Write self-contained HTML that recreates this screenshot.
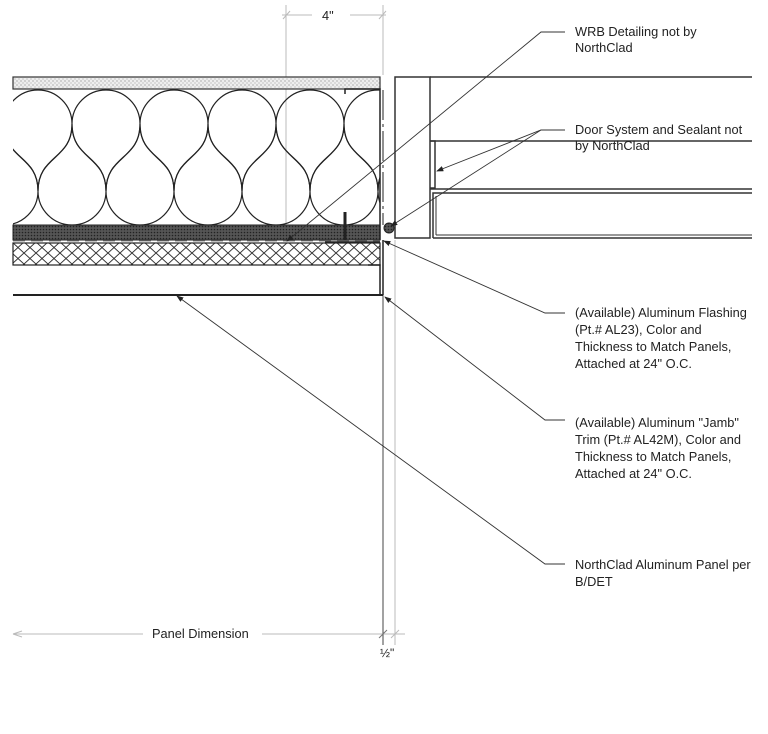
<!DOCTYPE html>
<html><head><style>
html,body{margin:0;padding:0;background:#fff;}
svg{display:block;}
text{font-family:"Liberation Sans",Arial,sans-serif;font-size:12.8px;fill:#222;}
</style></head><body>
<svg width="768" height="734" viewBox="0 0 768 734" xmlns="http://www.w3.org/2000/svg">
<defs>
<pattern id="stip" width="4" height="4" patternUnits="userSpaceOnUse"><rect width="4" height="4" fill="#eee"/><circle cx="1" cy="1" r="0.6" fill="#888"/><circle cx="3" cy="3" r="0.6" fill="#aaa"/></pattern>
<pattern id="dark" width="3" height="3" patternUnits="userSpaceOnUse"><rect width="3" height="3" fill="#555"/><circle cx="1.5" cy="1.5" r="0.8" fill="#222"/></pattern>
<pattern id="xh" width="12" height="11" patternUnits="userSpaceOnUse"><path d="M0,0 L12,11 M12,0 L0,11" stroke="#333" stroke-width="1"/></pattern>
<clipPath id="ins"><rect x="13" y="89" width="367" height="136"/></clipPath>
<marker id="ar" markerWidth="8" markerHeight="6" refX="7" refY="3" orient="auto"><path d="M0,0 L8,3 L0,6 z" fill="#222"/></marker>
</defs>

<g stroke="#bbb" stroke-width="1" fill="none">
<line x1="286" y1="5" x2="286" y2="240"/>
<line x1="383" y1="5" x2="383" y2="75"/>
<line x1="282" y1="15" x2="312" y2="15"/><line x1="350" y1="15" x2="386" y2="15"/>
<line x1="283" y1="19" x2="290" y2="11"/><line x1="379" y1="19" x2="386" y2="11"/>
<line x1="13" y1="634" x2="143" y2="634"/><line x1="262" y1="634" x2="405" y2="634"/>
<line x1="13" y1="634" x2="22" y2="631"/><line x1="13" y1="634" x2="22" y2="637"/>
<line x1="395" y1="240" x2="395" y2="645"/>
<line x1="391" y1="638" x2="399" y2="630"/>
</g>
<line x1="383" y1="295" x2="383" y2="645" stroke="#444" stroke-width="1"/>
<line x1="379" y1="638" x2="387" y2="630" stroke="#777"/>
<text x="322" y="20">4"</text>
<text x="152" y="638">Panel Dimension</text>
<text x="380" y="657" style="font-size:12px">½"</text>

<rect x="13" y="77" width="367" height="12" fill="url(#stip)" stroke="#333" stroke-width="1.2"/>
<g clip-path="url(#ins)" stroke="#222" stroke-width="1.2" fill="none">
<path d="M-30,191 C-30,155 -64,160 -64,124 A34 34 0 0 1 4,124 C4,160 -30,155 -30,191 M38,191 C38,155 4,160 4,124 A34 34 0 0 1 72,124 C72,160 38,155 38,191 M106,191 C106,155 72,160 72,124 A34 34 0 0 1 140,124 C140,160 106,155 106,191 M174,191 C174,155 140,160 140,124 A34 34 0 0 1 208,124 C208,160 174,155 174,191 M242,191 C242,155 208,160 208,124 A34 34 0 0 1 276,124 C276,160 242,155 242,191 M310,191 C310,155 276,160 276,124 A34 34 0 0 1 344,124 C344,160 310,155 310,191 M378,191 C378,155 344,160 344,124 A34 34 0 0 1 412,124 C412,160 378,155 378,191"/>
<path d="M4,124 C4,160 -30,155 -30,191 A34 34 0 0 0 38,191 C38,155 4,160 4,124 M72,124 C72,160 38,155 38,191 A34 34 0 0 0 106,191 C106,155 72,160 72,124 M140,124 C140,160 106,155 106,191 A34 34 0 0 0 174,191 C174,155 140,160 140,124 M208,124 C208,160 174,155 174,191 A34 34 0 0 0 242,191 C242,155 208,160 208,124 M276,124 C276,160 242,155 242,191 A34 34 0 0 0 310,191 C310,155 276,160 276,124 M344,124 C344,160 310,155 310,191 A34 34 0 0 0 378,191 C378,155 344,160 344,124 M412,124 C412,160 378,155 378,191 A34 34 0 0 0 446,191"/>
</g>
<rect x="13" y="225" width="367" height="15" fill="url(#dark)" stroke="#222" stroke-width="1"/>
<line x1="13" y1="241" x2="380" y2="241" stroke="#888" stroke-width="1" stroke-dasharray="12,6"/>
<rect x="13" y="243" width="367" height="22" fill="url(#xh)" stroke="#222" stroke-width="1.2"/>
<line x1="13" y1="295" x2="383" y2="295" stroke="#222" stroke-width="2"/>
<g stroke="#222" fill="none">
<path d="M345,94 V89 H380 V240" stroke-width="1.5"/>
<path d="M368,265 H380 V295" stroke-width="1.5"/>
<path d="M383,240 V295" stroke-width="1.5"/>
<line x1="383" y1="90" x2="383" y2="225" stroke-width="1" stroke-dasharray="30,4,3,4"/>
<path d="M345,212 V240" stroke-width="3"/>
<line x1="325" y1="242" x2="380" y2="242" stroke-width="1.5"/>
</g>
<circle cx="389" cy="228" r="5" fill="url(#dark)" stroke="#222"/>

<g stroke="#333" stroke-width="1.5" fill="none">
<rect x="395" y="77" width="35" height="161"/>
<line x1="430" y1="77" x2="752" y2="77"/>
<path d="M430,141 H752"/>
<path d="M430,141 H435 V188 H430"/>
<path d="M430,189 H752"/>
<path d="M433,238 V193 H752"/>
<line x1="433" y1="238" x2="752" y2="238"/>
<line x1="436" y1="196" x2="436" y2="235" stroke-width="1"/>
<line x1="436" y1="235" x2="752" y2="235" stroke-width="1"/>
</g>

<g stroke="#333" stroke-width="0.9" fill="none">
<polyline points="565,32 541,32 287,241" marker-end="url(#ar)"/>
<polyline points="565,130 541,130 437,171" marker-end="url(#ar)"/>
<line x1="541" y1="130" x2="391" y2="226" marker-end="url(#ar)"/>
<polyline points="565,313 545,313 384,241" marker-end="url(#ar)"/>
<polyline points="565,420 545,420 385,297" marker-end="url(#ar)"/>
<polyline points="565,564 545,564 177,296" marker-end="url(#ar)"/>
</g>
<text x="575" y="36">WRB Detailing not by</text>
<text x="575" y="52">NorthClad</text>
<text x="575" y="134">Door System and Sealant not</text>
<text x="575" y="150">by NorthClad</text>
<text x="575" y="317">(Available) Aluminum Flashing</text>
<text x="575" y="334">(Pt.# AL23), Color and</text>
<text x="575" y="351">Thickness to Match Panels,</text>
<text x="575" y="368">Attached at 24" O.C.</text>
<text x="575" y="427">(Available) Aluminum "Jamb"</text>
<text x="575" y="444">Trim (Pt.# AL42M), Color and</text>
<text x="575" y="461">Thickness to Match Panels,</text>
<text x="575" y="478">Attached at 24" O.C.</text>
<text x="575" y="569">NorthClad Aluminum Panel per</text>
<text x="575" y="586">B/DET</text>
</svg>
</body></html>
